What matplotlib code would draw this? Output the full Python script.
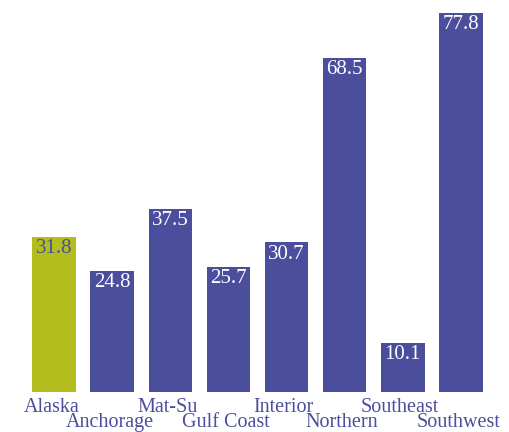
import matplotlib
matplotlib.use("Agg")
import matplotlib.pyplot as plt
import matplotlib.transforms as mtransforms

regions = ["Alaska", "Anchorage", "Mat-Su", "Gulf Coast", "Interior", "Northern", "Southeast", "Southwest"]
values = [31.8, 24.8, 37.5, 25.7, 30.7, 68.5, 10.1, 77.8]

green = "#b4bd1e"
blue = "#4a4e9c"
colors = [green] + [blue] * (len(regions) - 1)

plt.rcParams['font.family'] = ['Liberation Serif', 'DejaVu Serif']

fig = plt.figure(figsize=(5.10, 4.32), dpi=100)
ax = fig.add_axes([25/510, 40/432, 465/510, (392-13)/432])

x = list(range(len(regions)))
ax.bar(x, values, width=0.75, color=colors)
ax.set_xlim(-0.5, len(regions) - 0.5)
ax.set_ylim(0, max(values))

for xi, v, c in zip(x, values, colors):
    tc = blue if c == green else "white"
    ax.annotate(f"{v}", (xi, v), xytext=(0, -1.5), textcoords="offset points",
                ha="center", va="top", color=tc, fontsize=15)

trans = mtransforms.blended_transform_factory(ax.transData, ax.transAxes)
for i, r in enumerate(regions):
    dy = -14.5 if i % 2 == 0 else -25
    ax.annotate(r, (i, 0), xycoords=trans, xytext=(-2, dy), textcoords="offset points",
                ha="center", va="baseline", color=blue, fontsize=14.5,
                annotation_clip=False)

ax.set_xticks([])
ax.set_yticks([])
for s in ax.spines.values():
    s.set_visible(False)

fig.savefig("out.png", dpi=100)
